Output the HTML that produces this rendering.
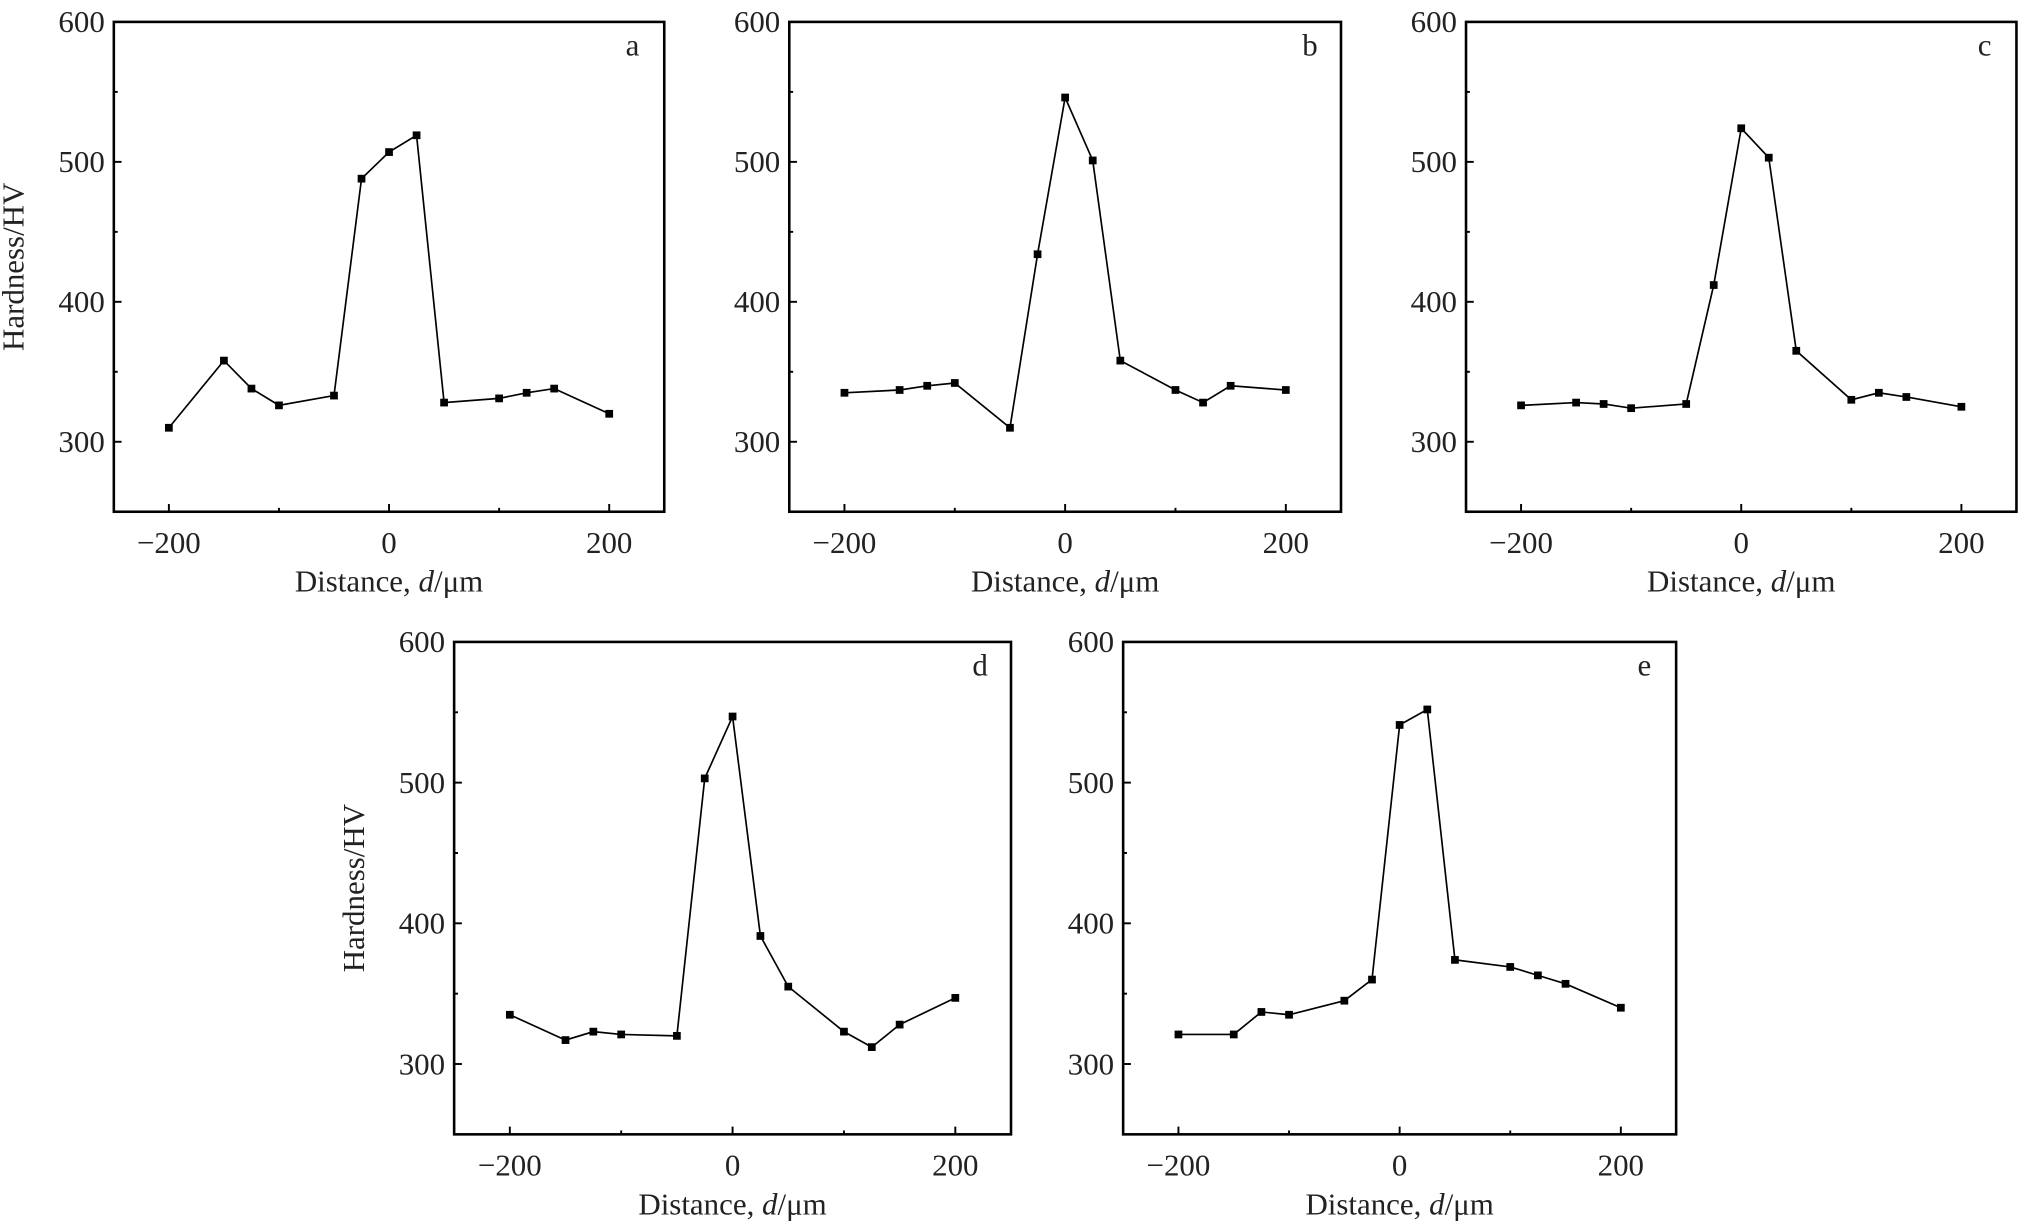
<!DOCTYPE html>
<html><head><meta charset="utf-8"><style>body{margin:0;background:#fff}svg{display:block}</style></head>
<body>
<svg id="s" width="2022" height="1222" viewBox="0 0 1568 948" xmlns="http://www.w3.org/2000/svg" font-family="Liberation Serif, serif" fill="#222"></svg>
<script>
const P=[
{x0:88,x1:515,y0:17,y1:397,l:'a',yl:true,d:[[-200,310],[-150,358],[-125,338],[-100,326],[-50,333],[-25,488],[0,507],[25,519],[50,328],[100,331],[125,335],[150,338],[200,320]]},
{x0:612,x1:1040,y0:17,y1:397,l:'b',d:[[-200,335],[-150,337],[-125,340],[-100,342],[-50,310],[-25,434],[0,546],[25,501],[50,358],[100,337],[125,328],[150,340],[200,337]]},
{x0:1137,x1:1564,y0:17,y1:397,l:'c',d:[[-200,326],[-150,328],[-125,327],[-100,324],[-50,327],[-25,412],[0,524],[25,503],[50,365],[100,330],[125,335],[150,332],[200,325]]},
{x0:352,x1:784,y0:498,y1:880,l:'d',yl:true,d:[[-200,335],[-150,317],[-125,323],[-100,321],[-50,320],[-25,503],[0,547],[25,391],[50,355],[100,323],[125,312],[150,328],[200,347]]},
{x0:871,x1:1300,y0:498,y1:880,l:'e',d:[[-200,321],[-150,321],[-125,337],[-100,335],[-50,345],[-25,360],[0,541],[25,552],[50,374],[100,369],[125,363],[150,357],[200,340]]}];
let h='';
for(const p of P){
 const X=v=>p.x0+(v+250)/500*(p.x1-p.x0), Y=v=>p.y0+(600-v)/350*(p.y1-p.y0);
 h+=`<rect x="${p.x0}" y="${p.y0}" width="${p.x1-p.x0}" height="${p.y1-p.y0}" fill="none" stroke="#000" stroke-width="2"/>`;
 for(let v=-200;v<=200;v+=100){const M=v%200==0,x=X(v);h+=`<line x1="${x}" x2="${x}" y1="${p.y1}" y2="${p.y1-(M?6:3)}" stroke="#000" stroke-width="1.5"/>`;
  if(M)h+=`<text x="${x}" y="${p.y1+32}" font-size="24" text-anchor="middle">${v<0?'\u2212'+(-v):v}</text>`;}
 for(let v=300;v<=600;v+=50){const M=v%100==0,y=Y(v);h+=`<line x1="${p.x0}" x2="${p.x0+(M?6:3)}" y1="${y}" y2="${y}" stroke="#000" stroke-width="1.5"/>`;
  if(M)h+=`<text x="${p.x0-7}" y="${y+8}" font-size="24" text-anchor="end">${v}</text>`;}
 h+=`<text x="${(p.x0+p.x1)/2}" y="${p.y1+62}" font-size="24" text-anchor="middle">Distance, <tspan font-style="italic">d</tspan>/μm</text>`;
 if(p.yl)h+=`<text transform="translate(${p.x0-70},${(p.y0+p.y1)/2}) rotate(-90)" font-size="24" text-anchor="middle">Hardness/HV</text>`;
 h+=`<text x="${p.x1-30}" y="${p.y0+26}" font-size="24">${p.l}</text>`;
 h+=`<polyline fill="none" stroke="#000" stroke-width="1.3" points="${p.d.map(a=>X(a[0])+','+Y(a[1])).join(' ')}"/>`;
 for(const a of p.d)h+=`<rect x="${X(a[0])-3}" y="${Y(a[1])-3}" width="6" height="6" fill="#000"/>`;
}
document.getElementById('s').innerHTML=h;
</script>
</body></html>
